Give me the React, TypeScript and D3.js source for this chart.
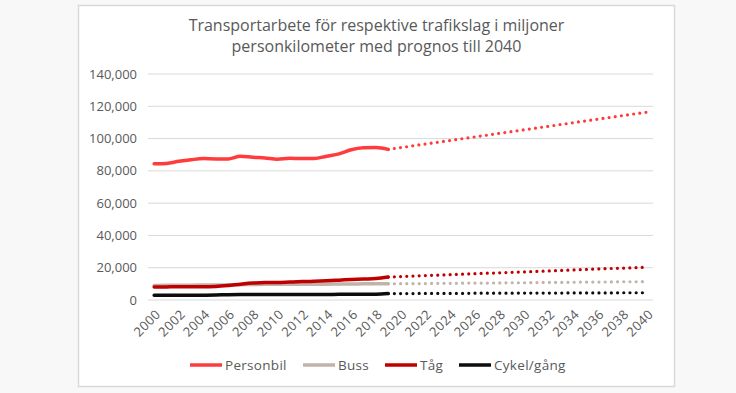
import React, { useRef, useEffect } from 'react';
import * as d3 from 'd3';

const title = ['Transportarbete för respektive trafikslag i miljoner', 'personkilometer med prognos till 2040'];

const years = d3.range(2000, 2041).map(String);
const histYears = years.slice(0, 20); // 2000-2019
const progYears = years.slice(19); // 2019-2040

const yTicks = [0, 20000, 40000, 60000, 80000, 100000, 120000, 140000];

// historic values 2000-2019
const personbil = [84400, 84600, 85900, 86900, 87600, 87400, 87400, 89100, 88400, 88000, 87200, 87800, 87600, 87600, 89100, 90500, 93100, 94300, 94500, 93300];
const buss = [9000, 9100, 9200, 9200, 9300, 9300, 9400, 9500, 9600, 9700, 9700, 9700, 9800, 9800, 9800, 9900, 9900, 10000, 10000, 10000];
const tag = [8000, 8100, 8200, 8200, 8200, 8400, 9000, 9800, 10500, 10900, 10800, 11100, 11400, 11600, 11900, 12300, 12700, 13000, 13300, 14200];
const cykel = [3000, 3000, 3000, 3000, 3000, 3100, 3300, 3400, 3400, 3400, 3400, 3400, 3400, 3400, 3400, 3500, 3500, 3600, 3600, 4000];

// prognosis 2019-2040
const personbilProg = [93300, 94400, 95500, 96600, 97700, 98800, 99900, 101000, 102100, 103200, 104300, 105400, 106500, 107600, 108700, 109800, 110900, 112000, 113100, 114200, 115300, 116300];
const bussProg = [10000, 10100, 10100, 10200, 10300, 10300, 10400, 10500, 10500, 10600, 10700, 10700, 10800, 10900, 10900, 11000, 11100, 11100, 11200, 11300, 11300, 11400];
const tagProg = [14200, 14500, 14800, 15100, 15400, 15700, 16000, 16300, 16600, 16800, 17100, 17400, 17700, 18000, 18300, 18600, 18900, 19200, 19500, 19700, 20000, 20300];
const cykelProg = [4000, 4000, 4000, 4100, 4100, 4100, 4100, 4200, 4200, 4200, 4200, 4300, 4300, 4300, 4300, 4400, 4400, 4400, 4400, 4500, 4500, 4500];

const seriesNames = ['Personbil', 'Buss', 'Tåg', 'Cykel/gång'];
const seriesColors = ['#ff3b3b', '#bfb3aa', '#c00000', '#0d0d0d'];
const histData = [personbil, buss, tag, cykel];
const progData = [personbilProg, bussProg, tagProg, cykelProg];

const W = 736;
const H = 393;
const font = '"Open Sans", sans-serif';
const textColor = '#595959';

export default function App() {
  const svgRef = useRef<SVGSVGElement>(null);

  useEffect(() => {
    if (!svgRef.current) return;
    const svg = d3.select(svgRef.current);
    svg.selectAll('*').remove();

    // background + chart frame
    svg.append('rect').attr('width', W).attr('height', H).attr('fill', '#f8f8f8');
    svg.append('rect')
      .attr('x', 78.5).attr('y', 5.5).attr('width', 596).attr('height', 381)
      .attr('fill', '#ffffff').attr('stroke', '#d9d9d9').attr('stroke-width', 1.5);

    const x = d3.scalePoint<string>().domain(years).range([148, 653]).padding(0.5);
    const y = d3.scaleLinear().domain([0, 140000]).range([300, 74]);

    // title
    const t = svg.append('text')
      .attr('text-anchor', 'middle')
      .attr('font-family', font)
      .attr('font-size', 16)
      .attr('fill', textColor);
    title.forEach((line, i) => {
      t.append('tspan').attr('x', 376.5).attr('y', 31 + i * 20.5).text(line);
    });

    // gridlines
    svg.append('g').selectAll('line').data(yTicks).enter().append('line')
      .attr('x1', 148).attr('x2', 653)
      .attr('y1', d => y(d)).attr('y2', d => y(d))
      .attr('stroke', '#d9d9d9').attr('stroke-width', 1);

    // y labels
    svg.append('g').selectAll('text').data(yTicks).enter().append('text')
      .attr('x', 137).attr('y', d => y(d)).attr('dy', '0.35em')
      .attr('text-anchor', 'end')
      .attr('font-family', font).attr('font-size', 13).attr('fill', textColor)
      .text(d => d3.format(',')(d));

    // x labels
    const xLabels = years.filter((_, i) => i % 2 === 0);
    svg.append('g').selectAll('text').data(xLabels).enter().append('text')
      .attr('transform', d => `translate(${x(d)! + 4}, 312) rotate(-45)`)
      .attr('text-anchor', 'end')
      .attr('dy', '0.35em')
      .attr('font-family', font).attr('font-size', 13).attr('letter-spacing', 0.4)
      .attr('fill', textColor)
      .text(d => d);

    const line = d3.line<number>()
      .curve(d3.curveMonotoneX);

    // prognosis (dotted)
    progData.forEach((vals, si) => {
      svg.append('path')
        .attr('d', line(vals.map((v, i) => [x(progYears[i])!, y(v)] as [number, number]) as any))
        .attr('fill', 'none')
        .attr('stroke', seriesColors[si])
        .attr('stroke-width', 3.2)
        .attr('stroke-linecap', 'round')
        .attr('stroke-dasharray', '0 6.2');
    });

    // historic (solid)
    histData.forEach((vals, si) => {
      svg.append('path')
        .attr('d', line(vals.map((v, i) => [x(histYears[i])!, y(v)] as [number, number]) as any))
        .attr('fill', 'none')
        .attr('stroke', seriesColors[si])
        .attr('stroke-width', 3.5)
        .attr('stroke-linecap', 'round')
        .attr('stroke-linejoin', 'round');
    });

    // legend
    const legendX = [190, 303, 385, 459];
    const lg = svg.append('g');
    seriesNames.forEach((name, i) => {
      lg.append('line')
        .attr('x1', legendX[i]).attr('x2', legendX[i] + 32)
        .attr('y1', 365).attr('y2', 365)
        .attr('stroke', seriesColors[i]).attr('stroke-width', 3.5);
      lg.append('text')
        .attr('x', legendX[i] + 35).attr('y', 365).attr('dy', '0.35em')
        .attr('font-family', font).attr('font-size', 13.5).attr('letter-spacing', 0.3)
        .attr('fill', textColor)
        .text(name);
    });
  }, []);

  return (
    <svg
      ref={svgRef}
      width={W}
      height={H}
      style={{ position: 'absolute', left: 0, top: 0, display: 'block' }}
    />
  );
}
